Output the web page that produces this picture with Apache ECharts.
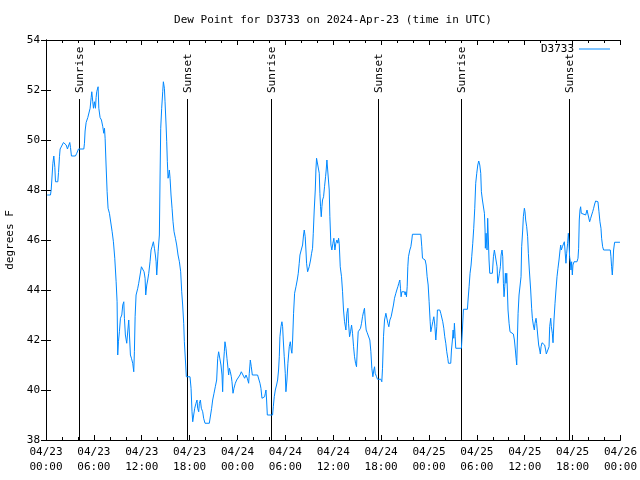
<!DOCTYPE html>
<html>
<head>
<meta charset="utf-8">
<script src="https://cdn.jsdelivr.net/npm/echarts@6/dist/echarts.min.js"></script>
<style>html,body{margin:0;padding:0;background:#fff}#c{width:640px;height:480px}</style>
</head>
<body>
<div id="c"></div>
<script>
// hours since 04/23 00:00 UTC
const hours = [
0.15,0.56,0.65,0.73,0.86,0.98,1.11,1.19,1.48,1.57,1.69,1.77,2.02,2.19,2.44,2.53,2.69,2.86,2.98,3.07,
3.19,3.69,3.86,4.07,4.74,4.82,4.9,5.03,5.24,5.45,5.53,5.66,5.74,5.86,5.95,6.07,6.2,6.28,6.36,6.45,
6.53,6.62,6.78,6.95,7.12,7.24,7.33,7.41,7.53,7.66,7.78,7.95,8.16,8.29,8.45,8.62,8.79,8.91,8.99,9.08,
9.2,9.33,9.5,9.62,9.75,9.83,9.95,10.12,10.25,10.37,10.46,10.58,10.71,10.87,11.0,11.08,11.17,11.29,11.5,11.62,
11.79,11.96,
12.12,12.29,12.42,12.5,12.63,12.75,12.88,13.04,13.17,13.29,13.46,13.59,13.71,13.8,13.88,13.96,14.05,14.21,14.3,14.38,
14.5,14.63,14.71,14.84,14.92,15.05,15.13,15.21,15.3,15.38,15.46,15.55,15.67,15.8,15.92,16.05,16.22,16.38,16.55,16.72,
16.88,17.01,17.13,17.26,17.34,17.51,17.59,18.05,18.18,18.3,18.39,18.51,18.64,18.8,18.93,19.01,19.14,19.22,19.35,19.47,
19.64,19.76,19.93,20.47,20.64,20.76,20.89,21.06,21.22,21.39,21.52,21.64,21.81,21.93,22.06,22.14,22.23,22.35,22.43,22.56,
22.68,22.81,22.89,22.98,23.1,23.23,23.31,23.44,23.56,23.73,23.9,24.15,24.31,24.48,24.61,24.73,24.9,25.07,25.23,25.4,
25.48,25.61,25.73,25.86,26.52,26.65,26.82,26.94,27.07,27.23,27.4,27.49,27.57,27.65,27.74,28.4,28.49,28.61,28.74,28.9,
29.03,29.15,29.24,29.32,29.45,29.57,29.66,29.74,29.86,29.99,30.07,30.2,30.32,30.49,30.62,30.74,30.82,30.91,31.03,31.16,
31.33,31.49,31.62,31.74,31.83,31.99,32.16,32.28,32.37,32.49,32.58,32.66,32.79,32.91,32.99,33.16,33.29,33.41,33.5,33.62,
33.75,33.83,33.91,34.16,34.25,34.33,34.41,34.5,34.58,34.66,34.79,34.91,35.04,35.12,35.21,35.33,35.42,35.5,35.58,35.71,
35.83,35.96,36.08,36.21,36.33,36.46,36.58,36.67,36.75,
36.88,37.04,37.17,37.29,37.42,37.59,37.71,37.84,37.92,38.05,38.17,38.3,38.42,38.55,38.67,38.8,38.92,39.01,39.13,39.42,
39.55,39.67,39.8,39.92,40.01,40.13,40.26,40.42,40.59,40.72,40.84,40.97,41.09,41.18,41.26,41.43,41.55,41.97,42.09,42.18,
42.3,42.43,42.6,42.72,42.85,42.97,43.1,43.26,43.43,43.55,43.68,43.85,43.97,44.1,44.22,44.35,44.43,44.51,44.6,44.77,
44.93,45.02,45.1,45.18,45.27,45.35,45.43,45.6,45.73,45.85,45.93,46.98,47.1,47.19,47.52,47.65,47.77,47.9,48.02,48.15,
48.23,48.36,48.48,48.61,48.73,48.86,48.98,49.06,49.36,49.48,49.61,49.73,49.86,49.98,50.11,50.23,50.36,50.44,
50.52,50.73,50.82,50.94,51.03,51.11,51.19,51.28,51.36,52.07,52.19,52.32,52.82,52.9,53.03,53.15,53.28,53.36,53.49,53.61,
53.74,53.86,53.99,54.12,54.24,54.37,54.49,54.57,54.7,54.82,54.95,55.03,55.07,55.16,55.28,55.36,55.45,55.53,55.62,55.95,
56.08,56.2,56.45,56.54,56.62,56.7,56.83,56.95,57.04,57.16,57.25,57.33,57.41,57.5,57.58,57.66,57.75,57.83,57.91,58.04,
58.16,58.58,58.71,58.83,58.92,59.0,59.08,59.17,59.29,59.46,59.54,59.62,59.75,59.83,59.96,60.04,60.12,60.25,60.37,60.46,
60.58,
60.75,60.87,60.96,61.08,61.21,61.29,61.42,61.5,61.63,61.75,61.88,61.96,62.05,62.17,62.5,62.63,62.71,62.92,63.05,63.13,
63.26,63.34,63.46,63.55,63.67,63.8,63.92,64.05,64.17,64.3,64.43,64.51,64.59,64.72,64.84,64.97,65.05,65.17,65.26,65.38,
65.47,65.55,65.63,65.72,65.8,65.88,65.97,66.05,66.18,66.43,66.55,66.68,66.76,66.84,66.93,67.01,67.09,67.22,67.64,67.81,
67.93,68.02,68.14,68.27,68.39,68.52,68.64,68.77,68.89,69.06,69.18,69.31,69.43,69.56,69.64,69.77,69.89,70.73,70.81,70.89,
70.98,71.06,71.14,71.27,71.94
];
// dew point, degrees F
const dewPoint = [
47.8,47.8,48.0,48.4,49.07,49.36,48.9,48.33,48.33,48.7,49.33,49.64,49.7,49.9,49.9,49.8,49.64,49.8,49.9,49.7,
49.36,49.36,49.47,49.64,49.64,49.87,50.36,50.7,50.9,50.95,51.27,51.7,51.93,51.53,51.27,51.53,51.27,51.7,51.93,52.04,
52.13,51.27,50.9,50.8,50.53,50.27,50.47,50.07,49.0,47.93,47.27,47.07,47.03,46.33,45.93,45.27,44.33,43.53,41.4,41.93,
42.33,42.87,43.0,43.4,43.53,42.87,42.2,41.87,41.87,42.8,42.2,41.4,41.27,41.07,40.73,41.53,42.93,43.8,44.07,44.27,
44.6,44.93,
44.93,44.73,44.47,43.8,44.2,44.4,44.67,45.13,45.6,45.73,45.93,45.67,45.4,45.13,44.6,45.0,45.53,46.2,48.6,50.47,
51.27,51.93,52.33,52.07,51.53,50.6,49.93,49.13,48.47,48.6,48.8,48.47,47.8,47.27,46.73,46.33,46.07,45.8,45.4,45.13,
44.73,43.93,43.4,42.67,41.93,41.0,40.53,40.53,40.07,39.13,38.73,39.0,39.27,39.47,39.6,39.27,39.13,39.47,39.6,39.27,
39.13,38.87,38.67,38.67,38.73,39.27,39.6,39.87,40.13,40.4,41.27,41.53,41.53,41.0,40.6,39.93,41.0,41.53,41.93,41.67,
41.27,40.87,40.6,40.87,40.73,40.53,40.33,39.87,40.07,40.27,40.4,40.47,40.6,40.73,40.8,40.67,40.47,40.6,40.47,40.27,
40.67,41.2,40.93,40.6,40.6,40.53,40.27,40.07,39.67,39.6,39.73,39.87,40.0,39.6,39.0,39.0,39.33,39.73,40.0,40.2,
40.4,40.8,41.33,42.13,42.53,42.73,42.53,42.0,41.33,40.67,39.93,40.4,41.07,41.73,41.93,41.6,41.47,42.0,43.07,43.87,
44.13,44.4,44.67,45.07,45.4,45.6,45.8,46.2,46.4,46.13,45.6,45.07,44.73,44.67,44.93,45.2,45.47,45.67,46.27,47.2,
48.0,48.8,49.27,49.27,48.67,47.87,47.33,46.93,47.33,47.6,47.73,48.13,48.53,48.8,49.2,49.23,49.2,48.0,46.93,45.8,
45.6,45.87,46.07,45.6,45.87,46.0,45.87,46.07,45.87,
44.93,44.53,43.93,43.2,42.73,42.4,43.07,43.27,42.67,42.13,42.33,42.6,42.27,41.73,41.33,41.07,40.93,41.6,42.33,42.47,
42.67,42.93,43.13,43.27,42.8,42.4,42.29,42.27,42.0,41.53,40.87,40.53,40.8,40.93,40.67,40.53,40.43,40.43,40.33,40.87,
42.13,42.8,43.07,43.0,42.67,42.53,42.8,42.93,43.0,43.4,43.67,43.87,44.0,44.13,44.27,44.4,44.07,43.73,43.93,44.0,
43.93,43.8,43.93,43.73,44.13,44.93,45.33,45.6,45.73,46.0,46.23,46.23,45.73,45.27,45.2,45.0,44.53,44.2,43.53,42.73,
42.33,42.53,42.73,42.93,42.6,42.0,42.53,43.2,43.2,43.07,43.0,42.73,42.47,42.13,41.87,41.53,41.27,41.07,
41.07,41.07,41.6,42.0,42.4,42.07,42.67,42.13,41.67,41.67,42.4,43.23,43.23,43.6,44.13,44.67,45.0,45.33,45.87,46.47,
47.27,48.27,48.67,49.0,49.16,49.0,48.67,47.93,47.6,47.67,47.07,46.4,45.67,46.27,45.6,46.87,46.0,45.2,44.67,44.67,
45.33,45.6,45.6,44.93,44.27,44.4,44.67,44.93,45.4,45.6,45.33,44.27,43.73,44.13,44.67,44.27,44.67,44.0,43.2,42.67,
42.33,42.24,42.0,41.6,41.27,41.0,42.0,43.07,43.8,43.87,44.53,45.73,46.4,46.93,47.27,47.13,46.8,46.53,46.13,45.47,
44.8,
44.0,43.27,42.87,42.6,42.4,42.67,42.87,42.67,42.2,41.8,41.6,41.44,41.73,41.89,41.8,41.6,41.44,41.44,41.73,42.53,
42.87,42.53,42.27,41.89,42.8,43.47,44.0,44.53,44.87,45.2,45.6,45.8,45.6,45.73,45.8,45.93,45.6,45.07,45.47,45.87,
46.27,45.93,45.33,45.13,44.8,45.13,44.6,45.0,45.13,45.2,45.13,45.27,45.67,46.8,47.2,47.33,47.07,47.0,47.0,47.2,
47.27,47.13,46.73,46.87,47.0,47.13,47.27,47.44,47.56,47.6,47.53,47.13,46.73,46.47,46.07,45.73,45.6,45.6,45.33,44.93,
44.6,45.0,45.6,45.91,45.91
];
const sunTimes = [4.1, 17.65, 28.15, 41.6, 52.07, 65.6];
const sunLabels = ['Sunrise', 'Sunset', 'Sunrise', 'Sunset', 'Sunrise', 'Sunset'];
const xTickLabels = ['04/23\n00:00','04/23\n06:00','04/23\n12:00','04/23\n18:00','04/24\n00:00','04/24\n06:00',
  '04/24\n12:00','04/24\n18:00','04/25\n00:00','04/25\n06:00','04/25\n12:00','04/25\n18:00','04/26\n00:00'];
const yTicks = [38, 40, 42, 44, 46, 48, 50, 52, 54];
const seriesName = 'D3733';
const titleText = 'Dew Point for D3733 on 2024-Apr-23 (time in UTC)';
const yName = 'degrees F';

const FONT = '"DejaVu Sans Mono", monospace';
const SUN_TOP = 51.64;

const chart = echarts.init(document.getElementById('c'), null, {renderer: 'canvas'});
const baseX = {
  type: 'value', min: 0, max: 72, interval: 6,
  axisLine: {show: true, lineStyle: {color: '#000', width: 1}},
  axisTick: {show: true, inside: true, length: 5, lineStyle: {color: '#000'}},
  minorTick: {show: true, splitNumber: 3, length: 3, lineStyle: {color: '#000'}},
  splitLine: {show: false}
};
const baseY = {
  type: 'value', min: yTicks[0], max: yTicks[yTicks.length - 1], interval: 2,
  axisLine: {show: true, lineStyle: {color: '#000', width: 1}},
  axisTick: {show: true, inside: true, length: 5, lineStyle: {color: '#000'}},
  splitLine: {show: false}
};
chart.setOption({
  animation: false,
  backgroundColor: '#fff',
  grid: {left: 46, right: 19, top: 40, bottom: 40},
  legend: {
    data: [{name: seriesName, icon: 'rect'}],
    right: 30, top: 43.5, padding: 0, align: 'right', itemWidth: 31, itemHeight: 1,
    textStyle: {fontFamily: FONT, fontSize: 11, color: '#000'}
  },
  graphic: [
    {type: 'text', x: 333, y: 20, style: {text: titleText, font: '11px ' + FONT, fill: '#000', textAlign: 'center', textVerticalAlign: 'middle'}},
    {type: 'text', x: 10, y: 240, rotation: Math.PI / 2, style: {text: yName, font: '11px ' + FONT, fill: '#000', textAlign: 'center', textVerticalAlign: 'middle'}}
  ],
  xAxis: [
    Object.assign({}, baseX, {
      position: 'bottom',
      axisLabel: {show: true, margin: 5, lineHeight: 15, fontFamily: FONT, fontSize: 11, color: '#000',
        formatter: v => xTickLabels[Math.round(v / 6)] || ''}
    }),
    Object.assign({}, baseX, {position: 'top', axisLabel: {show: false}})
  ],
  yAxis: [
    Object.assign({}, baseY, {
      position: 'left',
      axisLabel: {show: true, margin: 6, fontFamily: FONT, fontSize: 11, color: '#000'}
    }),
    Object.assign({}, baseY, {position: 'right', axisLabel: {show: false}})
  ],
  series: [
    {
      name: seriesName, type: 'line', xAxisIndex: 0, yAxisIndex: 0,
      data: hours.map((h, i) => [h, dewPoint[i]]),
      showSymbol: false, symbol: 'none',
      lineStyle: {color: '#0088ff', width: 1},
      itemStyle: {color: '#0088ff'},
      z: 3
    },
    {
      name: 'sun', type: 'custom', xAxisIndex: 0, yAxisIndex: 0,
      data: sunTimes.map(t => [t, yTicks[0]]),
      renderItem: function (params, api) {
        const t = api.value(0);
        const b = api.coord([t, yTicks[0]]);
        const tp = api.coord([t, SUN_TOP]);
        const x = Math.round(b[0]) + 0.5;
        return {
          type: 'group',
          children: [
            {type: 'line', shape: {x1: x, y1: b[1], x2: x, y2: tp[1]}, style: {stroke: '#000', lineWidth: 1}},
            {type: 'text', x: x + 0.5, y: tp[1] - 6, rotation: Math.PI / 2,
              style: {text: sunLabels[params.dataIndex], font: '11px ' + FONT, fill: '#000', textAlign: 'left', textVerticalAlign: 'middle'}}
          ]
        };
      },
      z: 2
    }
  ]
});
</script>
</body>
</html>
